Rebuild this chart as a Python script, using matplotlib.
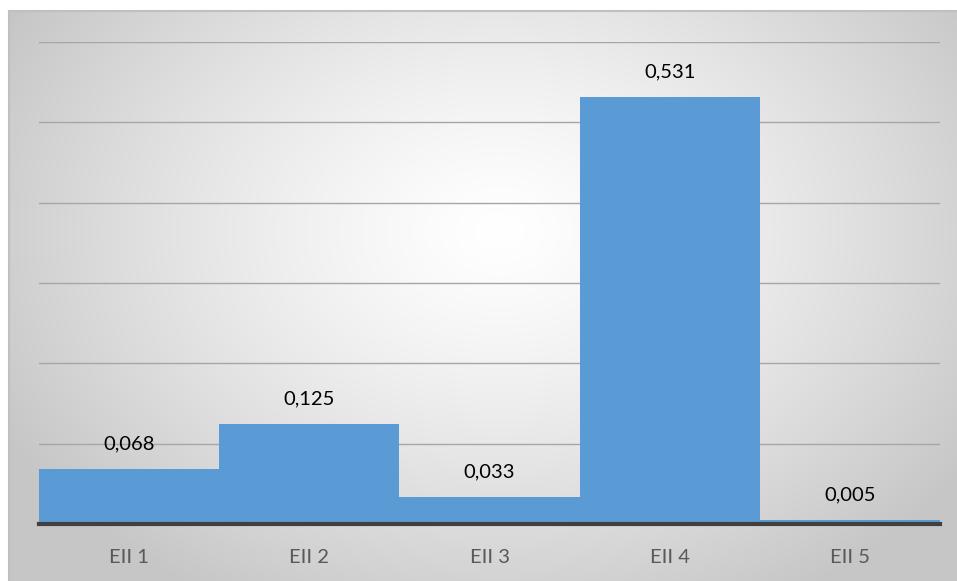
import numpy as np
import matplotlib
matplotlib.use("Agg")
from matplotlib import pyplot as plt

categorias = ['EII 1', 'EII 2', 'EII 3', 'EII 4', 'EII 5']
valores = [0.068, 0.125, 0.033, 0.531, 0.005]
rotulos = ['0,068', '0,125', '0,033', '0,531', '0,005']

plt.rcParams['font.family'] = ['Lato', 'DejaVu Sans']

W, H = 957, 581
fig = plt.figure(figsize=(W / 100, H / 100), dpi=100)
fig.patch.set_facecolor('white')

# fundo com gradiente radial (area do grafico)
bx0, by0 = 9, 11
bg = fig.add_axes([bx0 / W, 0, (W - bx0) / W, (H - by0) / H])
yy, xx = np.mgrid[0:H - by0, 0:W - bx0]
cx, cy = 490, 220
d = np.sqrt(((xx - cx) / 560.0) ** 2 + ((yy - cy) / 420.0) ** 2)
d = np.clip(d, 0, 1)
g = 1.0 - 0.22 * d ** 1.3
img = np.dstack([g, g, g])
bg.imshow(img, aspect='auto', interpolation='bilinear')
bg.axis('off')
fig.add_artist(plt.Line2D([bx0 / W, 1], [1 - by0 / H, 1 - by0 / H], color='#c0c0c0', lw=1.5))
fig.add_artist(plt.Line2D([bx0 / W, bx0 / W], [0, 1 - by0 / H], color='#c0c0c0', lw=1.5))

# area de plotagem
x0, x1 = 39, 940
ytop, ybot = 42, 524
ax = fig.add_axes([x0 / W, 1 - ybot / H, (x1 - x0) / W, (ybot - ytop) / H])
ax.patch.set_alpha(0)
x = np.arange(len(categorias))
barras = ax.bar(x, valores, width=1.0, color='#5b9bd5', zorder=3)
ax.set_xlim(-0.5, len(categorias) - 0.5)
ax.set_ylim(0, 0.6)
ax.set_yticks(np.arange(0.1, 0.61, 0.1))
ax.yaxis.grid(True, color='#a6a6a6', lw=1, zorder=0)
ax.tick_params(axis='y', left=False, labelleft=False)
ax.set_xticks(x)
ax.set_xticklabels(categorias, fontsize=14.5, color='#595959')
ax.tick_params(axis='x', length=0, pad=18)
for s in ['top', 'left', 'right']:
    ax.spines[s].set_visible(False)
ax.spines['bottom'].set_color('#404040')
ax.spines['bottom'].set_linewidth(3)
ax.spines['bottom'].set_zorder(4)

for b, r in zip(barras, rotulos):
    ax.annotate(r, (b.get_x() + b.get_width() / 2, b.get_height()),
                xytext=(0, 12), textcoords='offset points',
                ha='center', va='bottom', fontsize=14.5, color='black', zorder=5)

fig.savefig('out.png', dpi=100)
